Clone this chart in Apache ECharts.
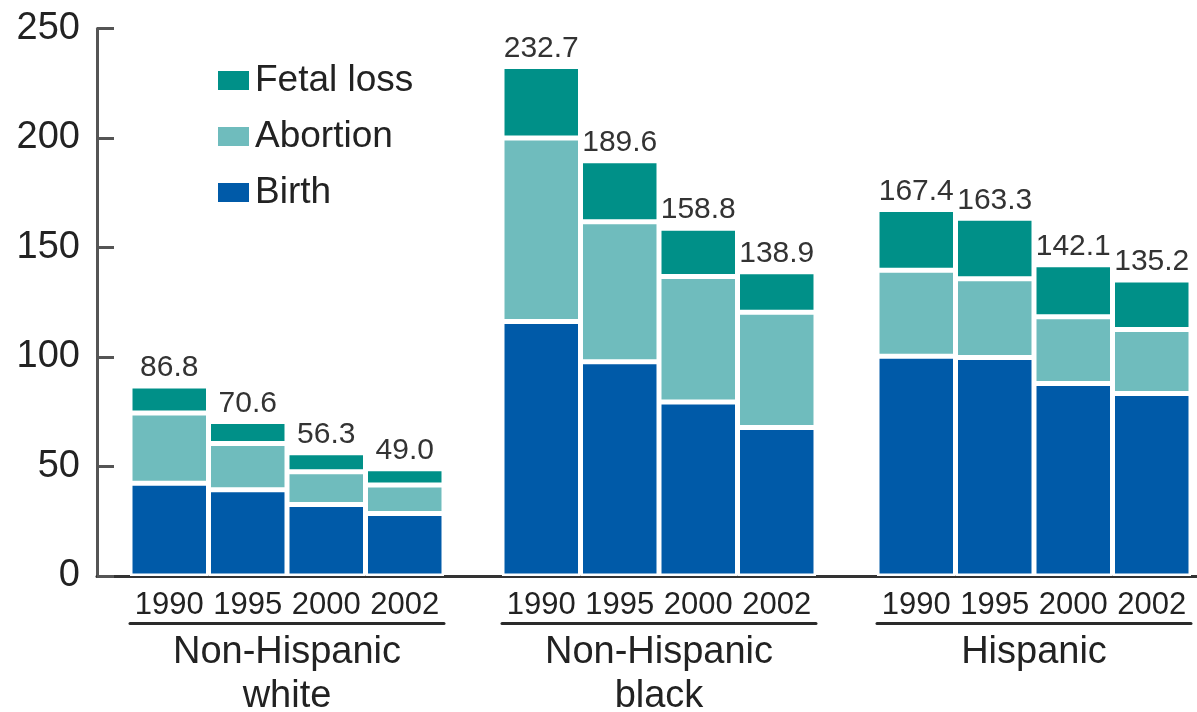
<!DOCTYPE html>
<html>
<head>
<meta charset="utf-8">
<title>Pregnancy rates by outcome</title>
<script src="https://cdn.jsdelivr.net/npm/echarts@6/dist/echarts.min.js"></script>
<style>
  html, body { margin: 0; padding: 0; background: #fff; }
  #chart { width: 1197px; height: 712px; }
</style>
</head>
<body>
<div id="chart"></div>
<script>
// Race/ethnicity groups and survey years
const groups = ['Non-Hispanic\nwhite', 'Non-Hispanic\nblack', 'Hispanic'];
const years = ['1990', '1995', '2000', '2002'];

// Rates per group, one value per year
const birthWhite = [42.4, 39.4, 32.6, 28.5];
const abortionWhite = [32.0, 21.1, 15.0, 13.1];
const fetalWhite = [12.4, 10.1, 8.7, 7.4];

const birthBlack = [116.2, 97.8, 79.5, 67.8];
const abortionBlack = [83.8, 64.0, 57.3, 52.6];
const fetalBlack = [32.7, 27.8, 22.0, 18.5];

const birthHispanic = [100.3, 99.8, 87.9, 83.3];
const abortionHispanic = [39.3, 35.9, 30.5, 29.3];
const fetalHispanic = [27.8, 27.6, 23.7, 22.6];

const yTicks = [0, 50, 100, 150, 200, 250];

const groupData = [
  { birth: birthWhite, abortion: abortionWhite, fetal: fetalWhite },
  { birth: birthBlack, abortion: abortionBlack, fetal: fetalBlack },
  { birth: birthHispanic, abortion: abortionHispanic, fetal: fetalHispanic }
];

const COLORS = { birth: '#005aa8', abortion: '#6fbcbd', fetal: '#009088' };
const FONT = '"Liberation Sans", Arial, Helvetica, sans-serif';
const TEXT = '#222';

const PLOT_TOP = 28.5;
const PLOT_BOTTOM = 136;
const groupLefts = [130, 502, 877];
const groupWidth = 314;

const gridBase = { top: PLOT_TOP, bottom: PLOT_BOTTOM, containLabel: false, outerBoundsMode: 'none' };
const grids = [Object.assign({ left: 97, right: 0 }, gridBase)];
groupLefts.forEach(l => grids.push(Object.assign({ left: l, width: groupWidth }, gridBase)));

// Base axes: full-width baseline and the visible value axis
const xAxes = [{
  gridIndex: 0, type: 'value', min: 0, max: 1,
  axisLine: { show: true, onZero: false, lineStyle: { color: '#333', width: 3 } },
  axisTick: { show: false }, axisLabel: { show: false }, splitLine: { show: false }
}];
const yAxes = [{
  gridIndex: 0, type: 'value', min: 0, max: 250, interval: 50,
  axisLine: { show: true, lineStyle: { color: '#555', width: 3 } },
  axisTick: { show: true, inside: true, length: 17, lineStyle: { color: '#555', width: 3 } },
  axisLabel: {
    fontSize: 38, fontFamily: FONT, color: TEXT, margin: 17,
    formatter: v => (yTicks.indexOf(v) >= 0 ? String(v) : '')
  },
  splitLine: { show: false }
}];

const series = [];
groups.forEach((g, i) => {
  const gi = i + 1;
  // Year labels under each bar
  xAxes.push({
    gridIndex: gi, type: 'category', data: years,
    axisLine: { show: false }, axisTick: { show: false },
    axisLabel: { fontSize: 31, fontFamily: FONT, color: TEXT, margin: 14, interval: 0 }
  });
  // Group name with its underline
  xAxes.push({
    gridIndex: gi, type: 'category', data: [g], position: 'bottom', offset: 47,
    axisLine: { show: true, lineStyle: { color: '#2a2a2a', width: 3 } },
    axisTick: { show: false },
    axisLabel: { fontSize: 38, lineHeight: 44, fontFamily: FONT, color: TEXT, margin: 8, interval: 0 }
  });
  yAxes.push({ gridIndex: gi, type: 'value', min: 0, max: 250, show: false, splitLine: { show: false } });

  const d = groupData[i];
  const xIdx = 1 + i * 2;
  const common = {
    type: 'bar', stack: 'g' + i, xAxisIndex: xIdx, yAxisIndex: gi,
    barCategoryGap: '0%'
  };
  const border = { borderColor: '#fff', borderWidth: 2.5 };
  series.push(Object.assign({}, common, {
    name: 'Birth', data: d.birth, itemStyle: Object.assign({ color: COLORS.birth }, border)
  }));
  series.push(Object.assign({}, common, {
    name: 'Abortion', data: d.abortion, itemStyle: Object.assign({ color: COLORS.abortion }, border)
  }));
  series.push(Object.assign({}, common, {
    name: 'Fetal loss', data: d.fetal, itemStyle: Object.assign({ color: COLORS.fetal }, border),
    label: {
      show: true, position: 'top', distance: 3,
      fontSize: 30, fontFamily: FONT, color: '#333',
      formatter: p => (d.birth[p.dataIndex] + d.abortion[p.dataIndex] + d.fetal[p.dataIndex]).toFixed(1)
    }
  }));
});

const chart = echarts.init(document.getElementById('chart'), null, { renderer: 'canvas' });
chart.setOption({
  animation: false,
  backgroundColor: '#fff',
  textStyle: { fontFamily: FONT },
  legend: {
    orient: 'vertical', left: 211, top: 57,
    data: ['Fetal loss', 'Abortion', 'Birth'],
    icon: 'rect', itemWidth: 33, itemHeight: 21, itemGap: 19,
    textStyle: { fontSize: 37, fontFamily: FONT, color: TEXT },
    selectedMode: false
  },
  grid: grids,
  xAxis: xAxes,
  yAxis: yAxes,
  series: series
});
</script>
</body>
</html>
